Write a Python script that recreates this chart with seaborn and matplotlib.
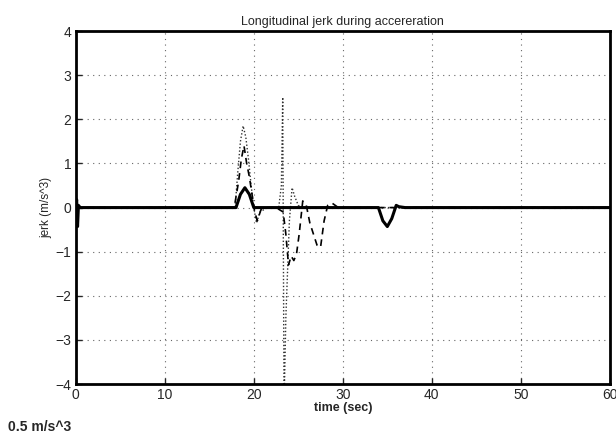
import matplotlib
matplotlib.use("Agg")
import matplotlib.pyplot as plt
import seaborn as sns
import pandas as pd
import numpy as np

# ---- data ----
t_solid = [0, 0.1, 0.2, 0.3, 0.5, 1, 18.0, 18.5, 19.0, 19.5, 20.0, 20.3, 34.0, 34.5, 35.0, 35.5, 36.0, 36.3, 37.0, 60]
v_solid = [0, 0.18, -0.43, 0.05, 0, 0, 0, 0.3, 0.45, 0.3, 0, 0, 0, -0.3, -0.43, -0.25, 0.05, 0.02, 0, 0]

t_dash = [0, 17.8, 18.3, 18.6, 18.9, 19.2, 19.5, 19.8, 20.1, 20.4, 20.8, 21.5, 22.5, 23.3, 23.6, 23.9, 24.2,
          24.5, 24.8, 25.1, 25.5, 25.9, 26.3, 26.7, 27.1, 27.5, 27.9, 28.3, 28.8, 29.5, 60]
v_dash = [0, 0, 0.6, 1.1, 1.4, 1.0, 0.7, 0.3, -0.1, -0.3, -0.05, 0.0, 0, -0.1, -0.6, -1.3, -1.1,
          -1.2, -1.05, -0.6, 0.15, 0.05, -0.35, -0.6, -0.85, -0.9, -0.3, 0.05, 0.1, 0, 0]

t_dot = [0, 17.9, 18.2, 18.5, 18.8, 19.1, 19.4, 19.7, 20.0, 20.3, 20.7, 21.5, 22.8, 23.1, 23.25, 23.4,
         23.6, 24.0, 24.3, 24.6, 25.0, 25.5, 60]
v_dot = [0, 0, 0.8, 1.5, 1.85, 1.6, 1.1, 0.5, 0.0, -0.35, -0.1, 0, 0, 0.5, 2.5, -4.5,
         -2.5, -0.3, 0.45, 0.25, 0.05, 0, 0]

x_ticks = [0, 10, 20, 30, 40, 50, 60]
y_ticks = [-4, -3, -2, -1, 0, 1, 2, 3, 4]

title = "Longitudinal jerk during accereration"
xlabel = "time (sec)"
ylabel = "jerk (m/s^3)"
note = "0.5 m/s^3"

# ---- style ----
sns.set_style("white")
plt.rcParams['font.family'] = ['Liberation Sans', 'DejaVu Sans']

fig = plt.figure(figsize=(6.16, 4.37), dpi=100)
ax = fig.add_axes([0.123, 0.121, 0.867, 0.808])

df_dot = pd.DataFrame({"t": t_dot, "v": v_dot})
df_dash = pd.DataFrame({"t": t_dash, "v": v_dash})
df_solid = pd.DataFrame({"t": t_solid, "v": v_solid})

sns.lineplot(data=df_dot, x="t", y="v", ax=ax, color="0.2", linewidth=1.0,
             linestyle=(0, (1, 1.5)), sort=False, estimator=None)
sns.lineplot(data=df_dash, x="t", y="v", ax=ax, color="black", linewidth=1.2,
             linestyle=(0, (4, 3)), sort=False, estimator=None)
sns.lineplot(data=df_solid, x="t", y="v", ax=ax, color="black", linewidth=2.2,
             sort=False, estimator=None)

ax.set_xlim(0, 60)
ax.set_ylim(-4, 4)
ax.set_xticks(x_ticks)
ax.set_yticks(y_ticks)
ax.set_xticklabels([str(v) for v in x_ticks], fontsize=10)
ax.set_yticklabels([str(v).replace('-', '\u2212') for v in y_ticks], fontsize=10)
ax.grid(True, color="0.4", linestyle=(0, (1, 4)), linewidth=0.8)
ax.tick_params(direction="in", length=4, width=1, pad=3, left=True, bottom=True)
for s in ax.spines.values():
    s.set_linewidth(2)
    s.set_color("black")

ax.set_title(title, fontsize=9, pad=4)
ax.set_xlabel(xlabel, fontsize=9, fontweight="bold", labelpad=0)
ax.set_ylabel(ylabel, fontsize=8.5, labelpad=2)

fig.text(0.013, 0.008, note, fontsize=10, fontweight="bold", ha="left", va="bottom")

fig.savefig("out.png", dpi=100)
